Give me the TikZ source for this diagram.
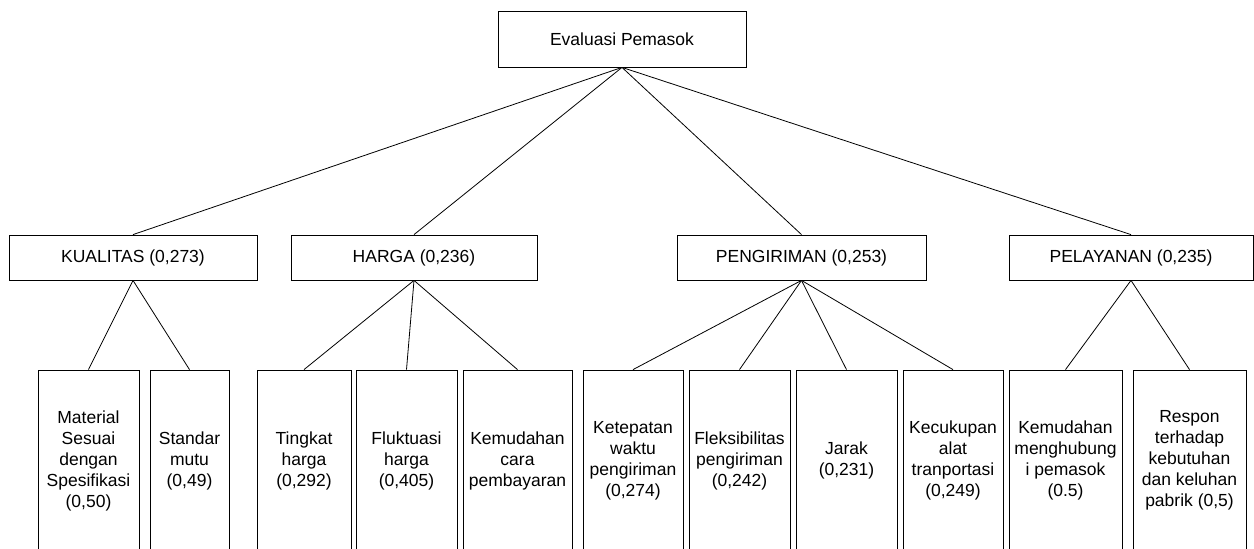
\documentclass[tikz,border=0pt]{standalone}
\usepackage{fontspec}
\setmainfont{Liberation Sans}
\begin{document}
\begin{tikzpicture}[x=1pt,y=-1pt,line width=.8pt,font=\fontsize{17.5}{21}\selectfont]
	\tikzset{kotak/.style={draw,align=center,inner sep=0pt,minimum height=45},
		daun/.style={draw,align=center,inner sep=0pt,minimum height=181}
	}
	\useasboundingbox (0,0) rectangle (1254,549);
	% tujuan
	\node[kotak,minimum width=248,minimum height=56] (eval) at (622,39) {Evaluasi Pemasok};
	% kriteria
	\node[kotak,minimum width=248] (kual) at (133,257.5) {KUALITAS (0,273)};
	\node[kotak,minimum width=246] (harga) at (414,257.5) {HARGA (0,236)};
	\node[kotak,minimum width=249] (kirim) at (801.5,257.5) {PENGIRIMAN (0,253)};
	\node[kotak,minimum width=244] (layan) at (1131,257.5) {PELAYANAN (0,235)};
	% subkriteria
	\node[daun,minimum width=101] (mat) at (88.5,460.5) {Material\\Sesuai\\dengan\\Spesifikasi\\(0,50)};
	\node[daun,minimum width=79] (std) at (189.5,460.5) {Standar\\mutu\\(0,49)};
	\node[daun,minimum width=94] (tkt) at (304,460.5) {Tingkat\\harga\\(0,292)};
	\node[daun,minimum width=101] (fluk) at (406.5,460.5) {Fluktuasi\\harga\\(0,405)};
	\node[daun,minimum width=109] (bayar) at (517.5,460.5) {Kemudahan\\cara\\pembayaran};
	\node[daun,minimum width=100] (tepat) at (633,460.5) {Ketepatan\\waktu\\pengiriman\\(0,274)};
	\node[daun,minimum width=101] (fleks) at (739.5,460.5) {Fleksibilitas\\pengiriman\\(0,242)};
	\node[daun,minimum width=101] (jarak) at (846.5,460.5) {Jarak\\(0,231)};
	\node[daun,minimum width=100] (alat) at (953,460.5) {Kecukupan\\alat\\tranportasi\\(0,249)};
	\node[daun,minimum width=113] (hub) at (1065.5,460.5) {Kemudahan\\menghubung\\i pemasok\\(0.5)};
	\node[daun,minimum width=113] (respon) at (1189.5,460.5) {Respon\\terhadap\\kebutuhan\\dan keluhan\\pabrik (0,5)};
	% garis
	\foreach \k in {kual,harga,kirim,layan}
		\draw (eval.south)--(\k.north);
	\draw (kual.south)--(mat.north) (kual.south)--(std.north);
	\foreach \s in {tkt,fluk,bayar}
		\draw (harga.south)--(\s.north);
	\foreach \s in {tepat,fleks,jarak,alat}
		\draw (kirim.south)--(\s.north);
	\draw (layan.south)--(hub.north) (layan.south)--(respon.north);
\end{tikzpicture}
\end{document}
